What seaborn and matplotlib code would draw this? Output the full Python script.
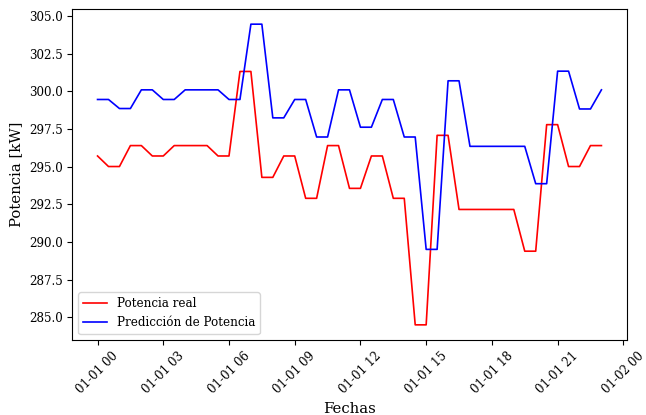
import matplotlib
matplotlib.use("Agg")
import matplotlib.pyplot as plt
import pandas as pd
import seaborn as sns

# Half-hourly timestamps for one day (00:00 -> 23:00)
fechas = pd.date_range("2023-01-01 00:00", "2023-01-01 23:00", freq="30min")

potencia_real = [
    295.70, 295.00, 295.00, 296.39, 296.39, 295.70, 295.70, 296.39,
    296.39, 296.39, 296.39, 295.70, 295.70, 301.31, 301.31, 294.28,
    294.28, 295.70, 295.70, 292.89, 292.89, 296.39, 296.39, 293.55,
    293.55, 295.70, 295.70, 292.89, 292.89, 284.49, 284.49, 297.07,
    297.07, 292.15, 292.15, 292.15, 292.15, 292.15, 292.15, 289.38,
    289.38, 297.78, 297.78, 295.00, 295.00, 296.39, 296.39,
]

prediccion = [
    299.45, 299.45, 298.85, 298.85, 300.09, 300.09, 299.45, 299.45,
    300.09, 300.09, 300.09, 300.09, 299.45, 299.45, 304.45, 304.45,
    298.23, 298.23, 299.45, 299.45, 296.96, 296.96, 300.09, 300.09,
    297.61, 297.61, 299.45, 299.45, 296.96, 296.96, 289.50, 289.50,
    300.69, 300.69, 296.34, 296.34, 296.34, 296.34, 296.34, 296.34,
    293.86, 293.86, 301.33, 301.33, 298.82, 298.82, 300.09,
]

series_names = ["Potencia real", "Predicción de Potencia"]
series_colors = ["red", "blue"]

df = pd.concat([
    pd.DataFrame({"Fechas": fechas, "Potencia": potencia_real, "Serie": series_names[0]}),
    pd.DataFrame({"Fechas": fechas, "Potencia": prediccion, "Serie": series_names[1]}),
], ignore_index=True)

plt.rcParams["font.family"] = ["DejaVu Serif"]

fig, ax = plt.subplots(figsize=(6.46, 4.15), dpi=100)
fig.subplots_adjust(left=0.112, right=0.970, top=0.978, bottom=0.181)

sns.lineplot(data=df, x="Fechas", y="Potencia", hue="Serie",
             palette=dict(zip(series_names, series_colors)),
             linewidth=1.2, ax=ax)

ax.legend(loc="lower left", fontsize=8.6, title=None)
ax.set_xlabel("Fechas", fontsize=10.7)
ax.set_ylabel("Potencia [kW]", fontsize=10.7)
ax.tick_params(axis="both", labelsize=8.6)
plt.setp(ax.get_xticklabels(), rotation=45)

fig.savefig("out.png", dpi=100)
